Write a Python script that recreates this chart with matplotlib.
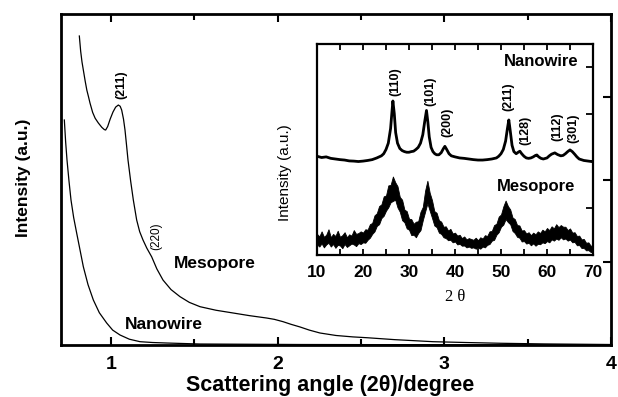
import matplotlib
matplotlib.use("Agg")
import matplotlib.pyplot as plt
import numpy as np
from matplotlib.ticker import MultipleLocator

plt.rcParams['font.family'] = ['Liberation Sans', 'DejaVu Sans']

# low angle scan (main panel)
meso_x = [0.810, 0.818, 0.826, 0.834, 0.845, 0.855, 0.865, 0.874, 0.890, 0.905,
          0.924, 0.945, 0.960, 0.968, 0.980, 0.995, 1.012, 1.028, 1.044, 1.055,
          1.064, 1.075, 1.084, 1.093, 1.102, 1.118, 1.134, 1.154, 1.172, 1.192,
          1.215, 1.244, 1.275, 1.312, 1.360, 1.414, 1.470, 1.534, 1.630, 1.732,
          1.830, 1.934, 1.980, 2.032, 2.080, 2.134, 2.190, 2.254, 2.350, 2.450,
          2.536, 2.700, 2.932, 3.130, 3.334, 3.600, 3.994]
meso_y = [3.734, 3.550, 3.420, 3.323, 3.190, 3.080, 3.000, 2.924, 2.810, 2.740,
          2.683, 2.630, 2.603, 2.598, 2.640, 2.730, 2.816, 2.875, 2.900, 2.885,
          2.840, 2.730, 2.598, 2.420, 2.236, 1.980, 1.752, 1.511, 1.370, 1.269,
          1.170, 1.066, 0.920, 0.785, 0.670, 0.584, 0.515, 0.463, 0.420, 0.387,
          0.355, 0.326, 0.310, 0.282, 0.250, 0.218, 0.180, 0.145, 0.115, 0.098,
          0.088, 0.065, 0.040, 0.030, 0.021, 0.013, 0.006]
nano_x = [0.720, 0.728, 0.736, 0.748, 0.760, 0.776, 0.794, 0.812, 0.834, 0.862,
          0.894, 0.930, 0.974, 1.010, 1.054, 1.110, 1.174, 1.250, 1.334, 1.534,
          2.134, 3.994]
nano_y = [2.719, 2.450, 2.236, 1.980, 1.752, 1.540, 1.353, 1.170, 0.946, 0.730,
          0.544, 0.390, 0.266, 0.180, 0.121, 0.070, 0.040, 0.030, 0.024, 0.012,
          0.006, 0.000]

# wide angle scan (inset), intensity as fraction of inset height
xrd_nano_x = [10, 11, 12, 13, 14, 15, 16, 17, 18, 19, 20, 21, 22, 23, 24, 24.5, 25,
              25.5, 26, 26.3, 26.5, 26.8, 27.1, 27.5, 28, 28.5, 29, 29.5, 30, 30.5,
              31, 31.5, 32, 32.5, 33, 33.4, 33.8, 34.1, 34.4, 34.8, 35.2, 35.6, 36,
              36.5, 37, 37.5, 37.8, 38.2, 38.7, 39.2, 40, 41, 42, 43, 44, 45, 46, 47,
              48, 49, 49.5, 50, 50.5, 51, 51.4, 51.7, 52, 52.4, 52.8, 53.3, 53.8,
              54.1, 54.5, 55, 55.5, 56, 56.5, 57, 57.5, 57.8, 58.2, 58.7, 59.2, 60,
              60.5, 61, 61.7, 62.3, 63, 63.5, 64, 64.5, 65, 65.5, 66, 66.5, 67, 68,
              69, 70]
xrd_nano_y = [0.468, 0.462, 0.465, 0.458, 0.455, 0.452, 0.450, 0.446, 0.445, 0.443,
              0.445, 0.448, 0.452, 0.460, 0.470, 0.480, 0.500, 0.530, 0.600, 0.680,
              0.730, 0.670, 0.580, 0.530, 0.505, 0.495, 0.490, 0.487, 0.487, 0.490,
              0.492, 0.500, 0.510, 0.530, 0.570, 0.630, 0.685, 0.630, 0.560, 0.510,
              0.490, 0.480, 0.475, 0.475, 0.485, 0.505, 0.515, 0.500, 0.480, 0.470,
              0.465, 0.460, 0.458, 0.455, 0.452, 0.450, 0.450, 0.452, 0.455, 0.460,
              0.468, 0.480, 0.500, 0.540, 0.600, 0.640, 0.590, 0.520, 0.490, 0.480,
              0.488, 0.492, 0.480, 0.468, 0.460, 0.458, 0.460, 0.465, 0.472, 0.474,
              0.465, 0.458, 0.455, 0.460, 0.470, 0.478, 0.484, 0.476, 0.470, 0.472,
              0.480, 0.490, 0.498, 0.490, 0.478, 0.465, 0.455, 0.448, 0.445, 0.442]

xrd_meso_x = np.arange(10, 70.01, 0.5)
# noisy band: lower and upper edge of the trace
xrd_meso_lo = [0.050, 0.040, 0.055, 0.036, 0.050, 0.058, 0.040, 0.052, 0.034, 0.048,
               0.045, 0.032, 0.052, 0.038, 0.046, 0.054, 0.050, 0.042, 0.056, 0.052,
               0.060, 0.058, 0.072, 0.082, 0.100, 0.112, 0.138, 0.146, 0.175, 0.186,
               0.210, 0.226, 0.250, 0.256, 0.262, 0.225, 0.205, 0.165, 0.155, 0.126,
               0.120, 0.094, 0.096, 0.084, 0.104, 0.118, 0.165, 0.205, 0.245, 0.210,
               0.176, 0.140, 0.132, 0.106, 0.100, 0.084, 0.080, 0.070, 0.072, 0.060,
               0.064, 0.050, 0.053, 0.044, 0.045, 0.036, 0.040, 0.034, 0.036, 0.030,
               0.034, 0.030, 0.040, 0.036, 0.048, 0.052, 0.068, 0.072, 0.096, 0.108,
               0.134, 0.144, 0.170, 0.156, 0.146, 0.114, 0.104, 0.086, 0.082, 0.064,
               0.066, 0.054, 0.058, 0.046, 0.055, 0.044, 0.053, 0.051, 0.060, 0.056,
               0.066, 0.060, 0.074, 0.068, 0.078, 0.072, 0.084, 0.074, 0.078, 0.068,
               0.073, 0.060, 0.062, 0.046, 0.047, 0.033, 0.033, 0.022, 0.023, 0.014,
               0.014]
xrd_meso_hi = [0.100, 0.088, 0.112, 0.086, 0.096, 0.122, 0.084, 0.100, 0.090, 0.115,
               0.086, 0.094, 0.108, 0.084, 0.098, 0.092, 0.118, 0.100, 0.104, 0.112,
               0.106, 0.122, 0.120, 0.146, 0.152, 0.188, 0.198, 0.232, 0.240, 0.278,
               0.282, 0.330, 0.332, 0.372, 0.345, 0.326, 0.275, 0.262, 0.215, 0.208,
               0.172, 0.170, 0.148, 0.158, 0.160, 0.205, 0.228, 0.305, 0.352, 0.295,
               0.260, 0.208, 0.200, 0.165, 0.158, 0.134, 0.136, 0.116, 0.124, 0.102,
               0.106, 0.092, 0.096, 0.080, 0.088, 0.074, 0.080, 0.076, 0.072, 0.082,
               0.070, 0.084, 0.078, 0.094, 0.090, 0.112, 0.114, 0.142, 0.148, 0.182,
               0.192, 0.230, 0.258, 0.232, 0.216, 0.178, 0.170, 0.142, 0.140, 0.116,
               0.118, 0.102, 0.108, 0.094, 0.106, 0.098, 0.112, 0.104, 0.120, 0.112,
               0.128, 0.118, 0.136, 0.126, 0.146, 0.132, 0.142, 0.134, 0.134, 0.118,
               0.126, 0.106, 0.108, 0.090, 0.092, 0.074, 0.076, 0.058, 0.060, 0.044,
               0.046]

main_peaks = [('(211)', 1.06, 3.14, 9, 'bold'), ('(220)', 1.27, 1.32, 8.5, 'normal')]
inset_peaks = [('(110)', 27.0, 0.82), ('(101)', 34.6, 0.777), ('(200)', 38.3, 0.63),
               ('(211)', 51.5, 0.749), ('(128)', 55.2, 0.592), ('(112)', 62.2, 0.607),
               ('(301)', 65.7, 0.602)]

fig = plt.figure(figsize=(6.18, 3.97), dpi=100)
ax = fig.add_axes([61/618, 52/397, 550/618, 331/397])

ax.plot(meso_x, meso_y, color='black', lw=0.9)
ax.plot(nano_x, nano_y, color='black', lw=0.9)
ax.set_xlim(0.7, 4.0)
ax.set_ylim(0, 4)
ax.set_xticks([1, 2, 3, 4])
ax.xaxis.set_minor_locator(MultipleLocator(0.5))
ax.set_yticks([1, 2, 3])
ax.tick_params(axis='x', which='both', direction='in', top=True, width=1.5,
               labelsize=14, pad=8)
ax.tick_params(axis='x', which='major', length=6)
ax.tick_params(axis='x', which='minor', length=4)
ax.tick_params(axis='y', direction='in', left=False, right=True, labelleft=False,
               length=6, width=1.5)
for lbl in ax.get_xticklabels():
    lbl.set_fontweight('bold')
for s in ax.spines.values():
    s.set_linewidth(2)

for txt, x, y, fs, fw in main_peaks:
    ax.text(x, y, txt, rotation=90, ha='center', va='center', fontsize=fs, fontweight=fw)
ax.text(1.624, 0.979, 'Mesopore', ha='center', va='center', fontsize=12.5, fontweight='bold')
ax.text(1.318, 0.242, 'Nanowire', ha='center', va='center', fontsize=12.5, fontweight='bold')

fig.text(24/618, 1 - 178/397, 'Intensity (a.u.)', rotation=90, ha='center', va='center',
         fontsize=12.5, fontweight='bold')
fig.text(330/618, 1 - 386/397, 'Scattering angle (2θ)/degree', ha='center', va='center',
         fontsize=15.5, fontweight='bold')

# inset
axi = fig.add_axes([317/618, 142/397, 276/618, 211/397])
axi.fill_between(xrd_meso_x, xrd_meso_lo, xrd_meso_hi, color='black', lw=0.6)
axi.plot(xrd_nano_x, xrd_nano_y, color='black', lw=2)
axi.set_xlim(10, 70)
axi.set_ylim(0, 1)
axi.set_xticks(range(10, 71, 10))
axi.xaxis.set_minor_locator(MultipleLocator(5))
axi.set_yticks(np.arange(1, 5) / 4.5)
axi.tick_params(axis='x', which='both', direction='in', top=True, length=4, width=1.3,
                labelsize=12.5, pad=7)
axi.tick_params(axis='y', direction='in', left=False, right=True, labelleft=False,
                length=5, width=1.3)
for lbl in axi.get_xticklabels():
    lbl.set_fontweight('bold')
for s in axi.spines.values():
    s.set_linewidth(1.6)

for txt, x, y in inset_peaks:
    axi.text(x, y, txt, rotation=90, ha='center', va='center', fontsize=9, fontweight='bold')
axi.text(58.7, 0.915, 'Nanowire', ha='center', va='center', fontsize=12, fontweight='bold')
axi.text(57.6, 0.327, 'Mesopore', ha='center', va='center', fontsize=12, fontweight='bold')

fig.text(285/618, 1 - 173/397, 'Intensity (a.u.)', rotation=90, ha='center', va='center',
         fontsize=11)
fig.text(455/618, 1 - 297/397, '2 θ', ha='center', va='center', fontsize=12,
         family=['Liberation Serif', 'DejaVu Serif'])

fig.savefig('out.png', dpi=100)
